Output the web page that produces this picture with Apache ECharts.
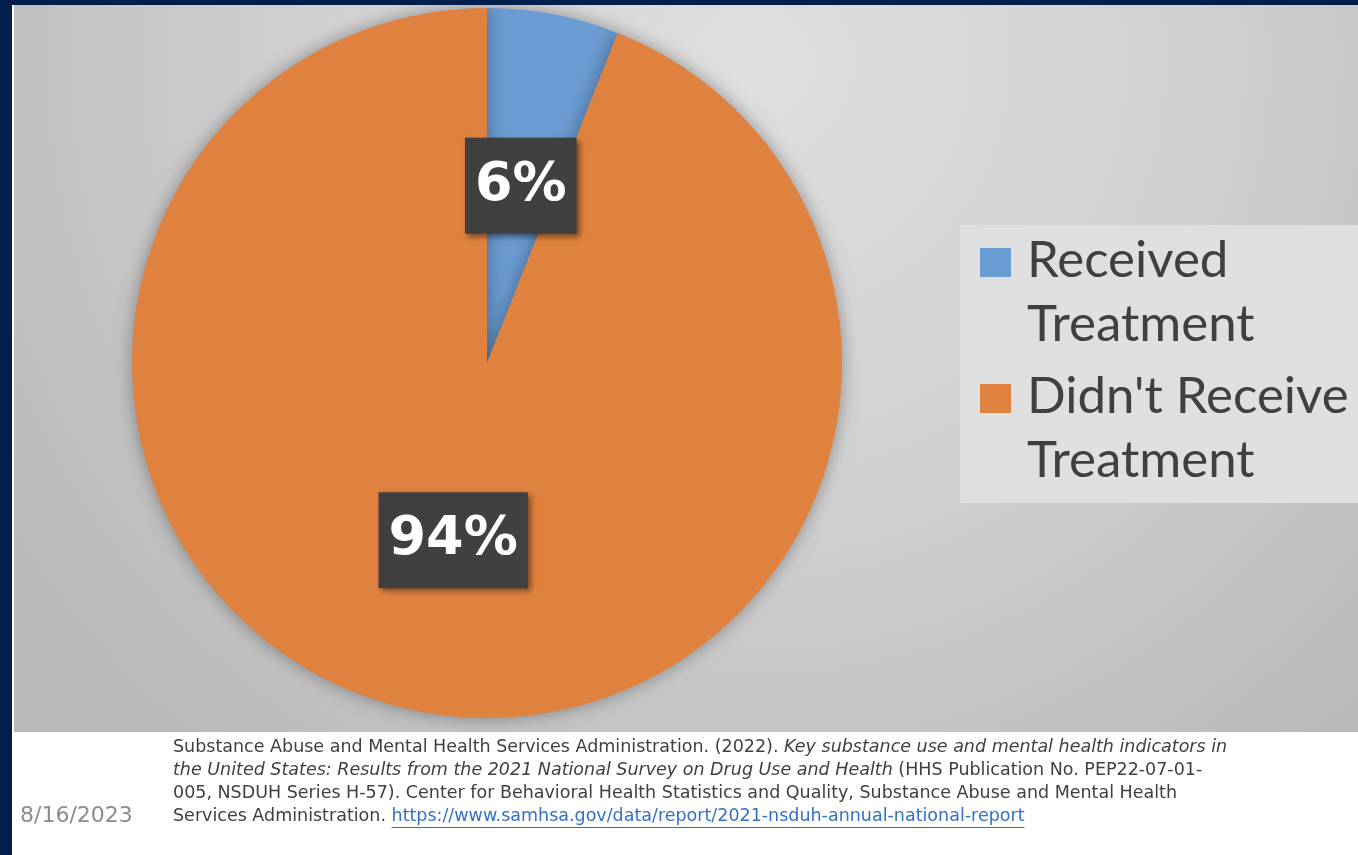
<!DOCTYPE html>
<html>
<head>
<meta charset="utf-8">
<script src="https://cdn.jsdelivr.net/npm/echarts@6/dist/echarts.min.js"></script>
<style>html,body{margin:0;padding:0;background:#fff;}#c{width:1358px;height:855px;}</style>
</head>
<body>
<div id="c"></div>
<script>
const categories = ['Received Treatment', "Didn't Receive Treatment"];
const values = [6, 94];
const legendLabels = ['Received\nTreatment', "Didn't Receive\nTreatment"];
const colors = ['#6a9bd2', '#e0823f'];
const citePlain1 = 'Substance Abuse and Mental Health Services Administration. (2022). ';
const citeItal1 = 'Key substance use and mental health indicators in';
const citeItal2 = 'the United States: Results from the 2021 National Survey on Drug Use and Health';
const citePlain2 = ' (HHS Publication No. PEP22-07-01-';
const citePlain3 = '005, NSDUH Series H-57). Center for Behavioral Health Statistics and Quality, Substance Abuse and Mental Health';
const citePlain4 = 'Services Administration. ';
const citeLink = 'https://www.samhsa.gov/data/report/2021-nsduh-annual-national-report';
const dateText = '8/16/2023';

const citeFont = 'DejaVu Sans';
const citeSize = 17.5;
const mctx = document.createElement('canvas').getContext('2d');
mctx.font = citeSize + 'px "' + citeFont + '"';
const linkX0 = 173 + mctx.measureText(citePlain4).width;
const linkW = mctx.measureText(citeLink).width;

const chart = echarts.init(document.getElementById('c'), null, {renderer: 'canvas'});
chart.setOption({
  animation: false,
  backgroundColor: '#ffffff',
  graphic: [
    {type: 'rect', shape: {x: 0, y: 0, width: 1358, height: 855}, style: {fill: '#ffffff'}, z: -10},
    {type: 'rect', shape: {x: 14, y: 5, width: 1344, height: 727},
     style: {fill: new echarts.graphic.RadialGradient(0.55, 0.08, 1.2, [
       {offset: 0, color: '#dfdfdf'}, {offset: 0.5, color: '#d1d1d1'}, {offset: 1, color: '#bababa'}])}, z: -9},
    {type: 'rect', shape: {x: 0, y: 0, width: 1358, height: 5}, style: {fill: '#011e4d'}, z: 10},
    {type: 'rect', shape: {x: 0, y: 0, width: 12, height: 855}, style: {fill: '#011e4d'}, z: 10},
    {type: 'text', left: 173, top: 738, z: 10,
     style: {
       text: '{n|' + citePlain1 + '}{i|' + citeItal1 + '}\n{i|' + citeItal2 + '}{n|' + citePlain2 + '}\n{n|' + citePlain3 + '}\n{n|' + citePlain4 + '}{l|' + citeLink + '}',
       rich: {
         n: {fontFamily: citeFont, fontSize: citeSize, fill: '#404040', lineHeight: 23},
         i: {fontFamily: citeFont, fontSize: citeSize, fontStyle: 'italic', fill: '#404040', lineHeight: 23},
         l: {fontFamily: citeFont, fontSize: citeSize, fill: '#3470c6', lineHeight: 23}
       }
     }},
    {type: 'line', z: 10, shape: {x1: linkX0, y1: 827.5, x2: linkX0 + linkW, y2: 827.5}, style: {stroke: '#3470c6', lineWidth: 1}},
    {type: 'text', left: 20, top: 805, z: 10,
     style: {text: dateText, fontFamily: citeFont, fontSize: 22, fill: '#8c8c8c'}}
  ],
  color: colors,
  legend: {
    orient: 'vertical',
    left: 960,
    top: 225,
    padding: [4, 20, 10, 20],
    backgroundColor: '#dfdfdf',
    itemWidth: 42,
    itemHeight: 128,
    itemGap: 8,
    icon: 'path://M0,0 M0,19h31v29h-31z M42,128',
    selectedMode: false,
    data: categories,
    formatter: function (name) { return legendLabels[categories.indexOf(name)]; },
    textStyle: {fontFamily: 'Lato', fontSize: 51, color: '#404040', lineHeight: 64}
  },
  series: [{
    type: 'pie',
    center: [487, 363],
    radius: 355,
    startAngle: 90,
    clockwise: true,
    silent: true,
    itemStyle: {shadowBlur: 18, shadowColor: 'rgba(0,0,0,0.35)'},
    label: {
      show: true,
      position: 'inside',
      formatter: '{c}%',
      fontFamily: 'DejaVu Sans',
      fontWeight: 'bold',
      fontSize: 54,
      lineHeight: 60,
      color: '#ffffff',
      backgroundColor: '#404040',
      padding: [18, 10],
      shadowBlur: 6,
      shadowOffsetX: 3,
      shadowOffsetY: 3,
      shadowColor: 'rgba(0,0,0,0.45)'
    },
    labelLine: {show: false},
    data: categories.map((c, i) => ({name: c, value: values[i]}))
  }]
});
</script>
</body>
</html>
